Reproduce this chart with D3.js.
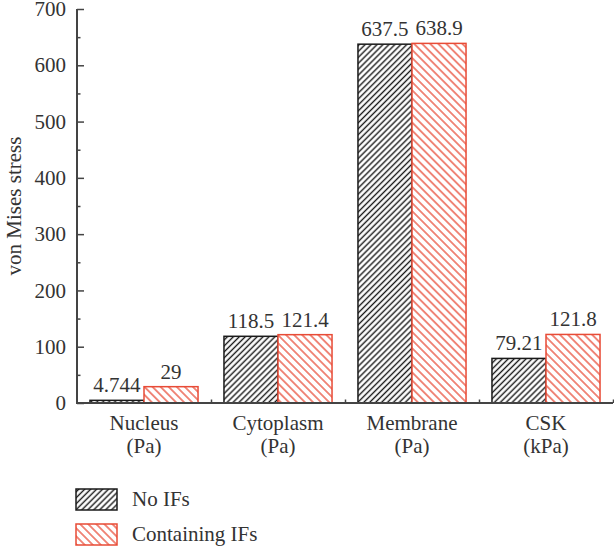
<!DOCTYPE html>
<html>
<head>
<meta charset="utf-8">
<script src="https://cdn.jsdelivr.net/npm/d3@7/dist/d3.min.js"></script>
<style>
  html, body { margin: 0; padding: 0; background: #fff; }
  svg text { font-family: "Liberation Serif", "DejaVu Serif", "Times New Roman", serif; fill: #333; }
</style>
</head>
<body>
<div id="bar-chart"></div>
<script>
// Data
var categories = ["Nucleus", "Cytoplasm", "Membrane", "CSK"];
var units = ["(Pa)", "(Pa)", "(Pa)", "(kPa)"];
var seriesNames = ["No IFs", "Containing IFs"];
var noIFs = [4.744, 118.5, 637.5, 79.21];
var withIFs = [29, 121.4, 638.9, 121.8];
var labelsNoIFs = ["4.744", "118.5", "637.5", "79.21"];
var labelsWithIFs = ["29", "121.4", "638.9", "121.8"];
var yTicks = [0, 100, 200, 300, 400, 500, 600, 700];

var seriesColors = ["#1a1a1a", "#e84b36"];
var axisColor = "#444";

var renderBarChart = function(config) {
  var margins = { top: 9, right: 1, bottom: 143, left: 77 };
  var chartWidth = config.width - margins.left - margins.right;
  var chartHeight = config.height - margins.top - margins.bottom;
  var fontSize = 21;

  var containerElement = d3.select(config.container);
  containerElement.html("");

  var svg = containerElement
    .append("svg")
    .attr("width", config.width)
    .attr("height", config.height)
    .style("display", "block");

  // Hatch patterns
  var defs = svg.append("defs");
  var hatches = [
    { id: "hatch-0", gap: 4.2, angle: 45, color: seriesColors[0], w: 1.4 },
    { id: "hatch-1", gap: 5.7, angle: -45, color: seriesColors[1], w: 1.3 }
  ];
  hatches.forEach(function(h) {
    var p = defs
      .append("pattern")
      .attr("id", h.id)
      .attr("patternUnits", "userSpaceOnUse")
      .attr("width", h.gap)
      .attr("height", h.gap)
      .attr("patternTransform", `rotate(${h.angle})`);
    p.append("rect")
      .attr("width", h.gap)
      .attr("height", h.gap)
      .attr("fill", "#fff");
    p.append("line")
      .attr("x1", h.gap / 2)
      .attr("x2", h.gap / 2)
      .attr("y1", 0)
      .attr("y2", h.gap)
      .attr("stroke", h.color)
      .attr("stroke-width", h.w);
  });

  var chartElement = svg
    .append("g")
    .attr("transform", `translate(${margins.left},${margins.top})`);

  // Scales
  var xScale = d3
    .scaleBand()
    .domain(categories)
    .range([0, chartWidth])
    .padding(0);

  var xSub = d3
    .scaleBand()
    .domain([0, 1])
    .range([0, xScale.bandwidth()])
    .paddingInner(0)
    .paddingOuter(0.24);

  var yScale = d3
    .scaleLinear()
    .domain([0, 700])
    .range([chartHeight, 0]);

  // Y axis: major ticks inward
  var yAxis = d3
    .axisRight(yScale)
    .tickValues(yTicks)
    .tickSize(7)
    .tickFormat("");

  var yMinor = d3
    .axisRight(yScale)
    .tickValues(d3.range(50, 700, 100))
    .tickSize(3.5)
    .tickFormat("");

  chartElement.append("g").attr("class", "y axis").call(yAxis);
  chartElement.append("g").attr("class", "y minor").call(yMinor);

  chartElement
    .append("g")
    .attr("class", "y labels")
    .selectAll("text")
    .data(yTicks)
    .enter()
    .append("text")
    .attr("x", -11)
    .attr("y", d => yScale(d))
    .attr("dy", "0.34em")
    .attr("text-anchor", "end")
    .attr("font-size", fontSize)
    .text(d => d);

  // X axis
  var xAxis = d3
    .axisTop(d3.scaleLinear().domain([0, 4]).range([0, chartWidth]))
    .tickValues([1, 2, 3, 4])
    .tickSize(3.5)
    .tickFormat("");

  chartElement
    .append("g")
    .attr("class", "x axis")
    .attr("transform", `translate(0,${chartHeight})`)
    .call(xAxis);

  chartElement.selectAll(".domain").remove();

  // Bars
  var seriesValues = [noIFs, withIFs];
  var seriesLabels = [labelsNoIFs, labelsWithIFs];

  seriesValues.forEach(function(values, s) {
    chartElement
      .append("g")
      .attr("class", "bars series-" + s)
      .selectAll("rect")
      .data(values)
      .enter()
      .append("rect")
      .attr("x", (d, i) => xScale(categories[i]) + xSub(s))
      .attr("y", d => yScale(d))
      .attr("width", xSub.bandwidth())
      .attr("height", d => yScale(0) - yScale(d))
      .attr("fill", `url(#hatch-${s})`)
      .attr("stroke", seriesColors[s])
      .attr("stroke-width", 1.5);

    chartElement
      .append("g")
      .attr("class", "value-labels")
      .selectAll("text")
      .data(values)
      .enter()
      .append("text")
      .attr("x", (d, i) => xScale(categories[i]) + xSub(s) + xSub.bandwidth() / 2)
      .attr("y", d => yScale(d) - 8)
      .attr("text-anchor", "middle")
      .attr("font-size", fontSize)
      .text((d, i) => seriesLabels[s][i]);
  });

  // Axis lines
  chartElement
    .append("line")
    .attr("x1", 0)
    .attr("x2", 0)
    .attr("y1", yScale(700))
    .attr("y2", chartHeight + 1)
    .attr("stroke", axisColor)
    .attr("stroke-width", 2);

  chartElement
    .append("line")
    .attr("x1", -1)
    .attr("x2", chartWidth)
    .attr("y1", chartHeight)
    .attr("y2", chartHeight)
    .attr("stroke", axisColor)
    .attr("stroke-width", 2);

  chartElement.selectAll(".axis line, .minor line")
    .attr("stroke", axisColor)
    .attr("stroke-width", 1.5);

  // Category labels
  var catLabels = chartElement
    .append("g")
    .attr("class", "x labels")
    .selectAll("text")
    .data(categories)
    .enter()
    .append("text")
    .attr("x", d => xScale(d) + xScale.bandwidth() / 2)
    .attr("y", chartHeight + 27)
    .attr("text-anchor", "middle")
    .attr("font-size", fontSize);
  catLabels.append("tspan").text(d => d);
  catLabels
    .append("tspan")
    .attr("x", d => xScale(d) + xScale.bandwidth() / 2)
    .attr("dy", 23)
    .text((d, i) => units[i]);

  // Y axis title
  svg
    .append("text")
    .attr("transform", `translate(21,${margins.top + yScale(350)}) rotate(-90)`)
    .attr("text-anchor", "middle")
    .attr("font-size", fontSize)
    .text("von Mises stress");

  // Legend
  var legend = svg
    .append("g")
    .attr("class", "legend")
    .attr("transform", "translate(76,489)");

  seriesNames.forEach(function(name, s) {
    var row = legend.append("g").attr("transform", `translate(0,${s * 35})`);
    row.append("rect")
      .attr("width", 41)
      .attr("height", 21)
      .attr("fill", `url(#hatch-${s})`)
      .attr("stroke", seriesColors[s])
      .attr("stroke-width", 1.5);
    row.append("text")
      .attr("x", 56)
      .attr("y", 17)
      .attr("font-size", fontSize)
      .text(name);
  });
};

renderBarChart({
  container: "#bar-chart",
  width: 614,
  height: 546
});
</script>
</body>
</html>
